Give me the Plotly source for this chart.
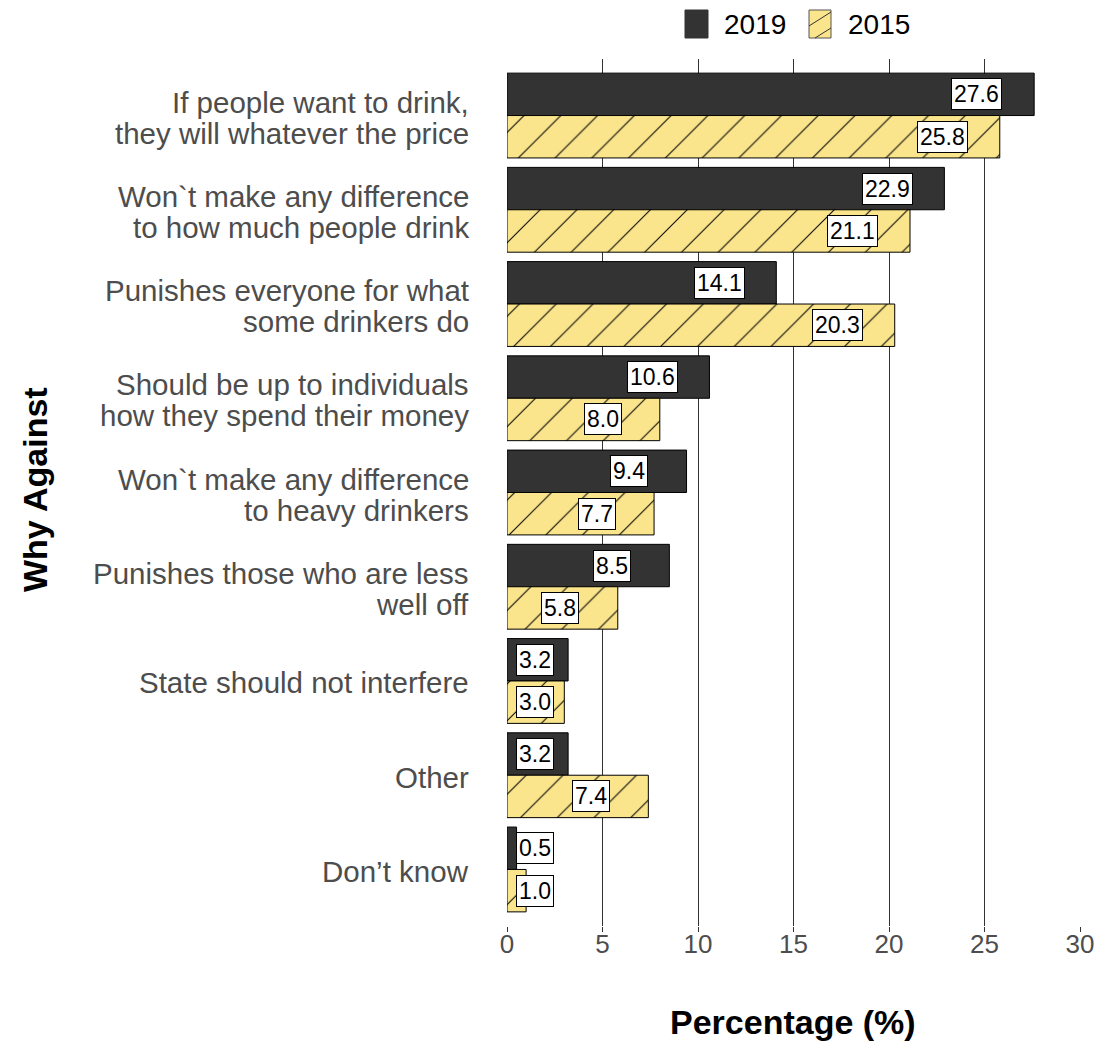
import plotly.graph_objects as go

categories = [
    "If people want to drink,<br>they will whatever the price",
    "Won`t make any difference<br>to how much people drink",
    "Punishes everyone for what<br>some drinkers do",
    "Should be up to individuals<br>how they spend their money",
    "Won`t make any difference<br>to heavy drinkers",
    "Punishes those who are less<br>well off",
    "State should not interfere",
    "Other",
    "Don’t know",
]
values_2019 = [27.6, 22.9, 14.1, 10.6, 9.4, 8.5, 3.2, 3.2, 0.5]
values_2015 = [25.8, 21.1, 20.3, 8.0, 7.7, 5.8, 3.0, 7.4, 1.0]
x_ticks = [0, 5, 10, 15, 20, 25, 30]
series_names = ["2019", "2015"]

DARK = "#333333"
YELLOW = "#FAE58C"
FONT = "Liberation Sans, Arial"

# plot area in pixels
W, H = 1102, 1045
L, R, T, B = 507, 22, 59, 119
PW, PH = W - L - R, H - T - B


def px(xp):
    return (xp - L) / PW


def py(yp):
    return 1 - (yp - T) / PH


fig = go.Figure()
fig.add_trace(go.Bar(
    y=categories, x=values_2019, orientation="h", name=series_names[0],
    marker=dict(color=DARK, line=dict(color="black", width=1)),
))
fig.add_trace(go.Bar(
    y=categories, x=values_2015, orientation="h", name=series_names[1],
    marker=dict(color=YELLOW, line=dict(color="black", width=1),
                pattern=dict(shape="/", fgcolor="black", bgcolor=YELLOW,
                             size=26, solidity=0.04, fgopacity=1)),
))

annotations = []
for i, (a, b) in enumerate(zip(values_2019, values_2015)):
    for v, off in ((a, -0.225), (b, 0.225)):
        annotations.append(dict(
            x=max(v - 3, 1.45), y=i + off, xref="x", yref="y",
            text=f"{v:.1f}", showarrow=False, xanchor="center", yanchor="middle",
            font=dict(family=FONT, size=23, color="black"),
            bgcolor="white", bordercolor="black", borderwidth=1, borderpad=2,
        ))

# category labels (one text per line, for tighter line spacing)
for i, cat in enumerate(categories):
    lines = cat.split("<br>")
    n = len(lines)
    for j, line in enumerate(lines):
        annotations.append(dict(
            x=px(471), y=i, xref="paper", yref="y", text=line,
            showarrow=False, xanchor="right", yanchor="middle",
            yshift=((n - 1) / 2 - j) * 31 - 2,
            font=dict(family=FONT, size=29.5, color="#4D4D4D"),
        ))

# axis titles
annotations.append(dict(
    x=px(793), y=py(1022), xref="paper", yref="paper", text="<b>Percentage (%)</b>",
    showarrow=False, xanchor="center", yanchor="middle",
    font=dict(family=FONT, size=34, color="black"),
))
annotations.append(dict(
    x=px(35), y=py(490), xref="paper", yref="paper", text="<b>Why Against</b>",
    showarrow=False, xanchor="center", yanchor="middle", textangle=-90,
    font=dict(family=FONT, size=34, color="black"),
))

# legend (manual)
shapes = [
    dict(type="rect", xref="paper", yref="paper", x0=px(685), x1=px(708), y0=py(38), y1=py(10),
         fillcolor=DARK, line=dict(color=DARK, width=1)),
    dict(type="rect", xref="paper", yref="paper", x0=px(809), x1=px(831), y0=py(38), y1=py(10),
         fillcolor=YELLOW, line=dict(color="#555555", width=1)),
    dict(type="line", xref="paper", yref="paper", x0=px(809), x1=px(831), y0=py(26), y1=py(12),
         line=dict(color="#333333", width=1)),
    dict(type="line", xref="paper", yref="paper", x0=px(815), x1=px(831), y0=py(38), y1=py(28),
         line=dict(color="#333333", width=1)),
]
annotations.append(dict(
    x=px(722), y=py(25), xref="paper", yref="paper", text=series_names[0],
    showarrow=False, xanchor="left", yanchor="middle",
    font=dict(family=FONT, size=28, color="black"),
))
annotations.append(dict(
    x=px(846), y=py(25), xref="paper", yref="paper", text=series_names[1],
    showarrow=False, xanchor="left", yanchor="middle",
    font=dict(family=FONT, size=28, color="black"),
))

fig.update_layout(
    width=W, height=H,
    paper_bgcolor="white", plot_bgcolor="white",
    margin=dict(l=L, r=R, t=T, b=B, autoexpand=False),
    barmode="group", bargap=0.1, bargroupgap=0,
    font=dict(family=FONT),
    annotations=annotations,
    shapes=shapes,
    showlegend=False,
)
fig.update_xaxes(
    range=[0, 30], tickvals=x_ticks, ticktext=[str(t) for t in x_ticks],
    showgrid=True, gridcolor="#333333", gridwidth=1,
    zeroline=False, showline=False,
    ticks="outside", ticklen=5, tickcolor="#333333", tickwidth=1,
    tickfont=dict(size=26, color="#4D4D4D"),
    automargin=False,
)
try:
    fig.update_xaxes(ticklabelstandoff=-10)
except Exception:
    pass
fig.update_yaxes(
    type="category", categoryorder="array", categoryarray=categories,
    range=[8.6, -0.6], showgrid=False, zeroline=False, showline=False,
    ticks="", showticklabels=False,
    automargin=False,
)

fig.write_html(
    "out.html",
    config={"displayModeBar": False},
    post_script="document.body.style.margin='0';document.body.style.padding='0';"
                "document.body.style.overflow='hidden';",
)
